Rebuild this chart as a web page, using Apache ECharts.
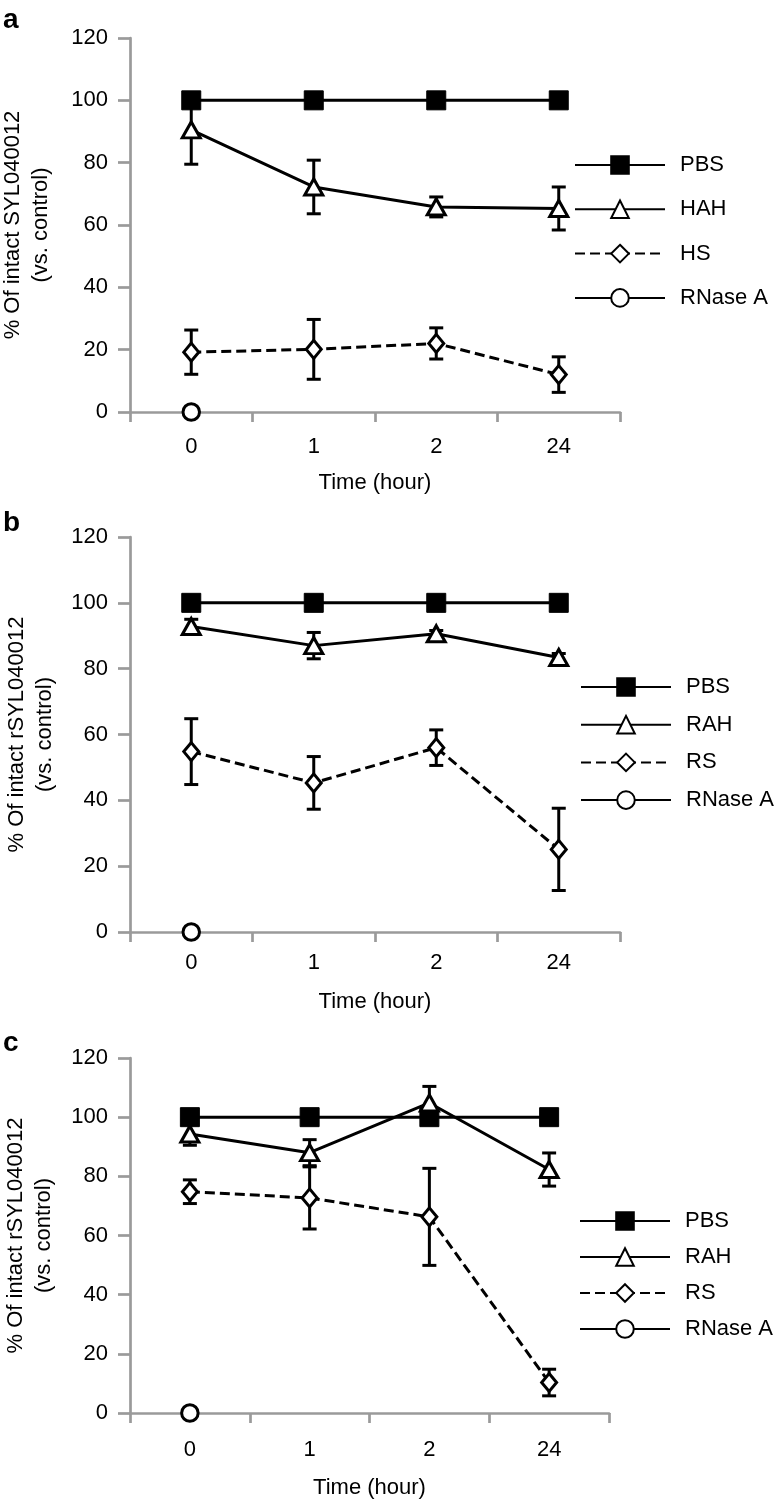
<!DOCTYPE html>
<html lang="en">
<head>
    <meta charset="UTF-8">
    <title>Intact SYL040012 over time</title>
    <script src="https://cdn.jsdelivr.net/npm/echarts@6/dist/echarts.min.js"></script>
    <style>
        html, body { margin: 0; padding: 0; background: #fff; }
        #main { width: 776px; height: 1500px; }
    </style>
</head>
<body>
<div id="main"></div>
<script type="text/javascript">
    // x categories (hours) and y ticks
    var categories = ['0', '1', '2', '24'];
    var yMin = 0, yMax = 120, yStep = 20;

    // panel a
    var pbsA = [100, 100, 100, 100];
    var hahA = [90.5, 72.2, 65.8, 65.3];
    var hahErrA = [11.0, 8.6, 3.2, 6.9];
    var hsA = [19.2, 20.1, 22.0, 12.0];
    var hsErrA = [7.1, 9.6, 5.0, 5.7];
    var rnaseA = [0, null, null, null];

    // panel b
    var pbsB = [100, 100, 100, 100];
    var rahB = [92.8, 87.0, 90.6, 83.4];
    var rahErrB = [2.2, 4.0, 1.0, 1.2];
    var rsB = [54.8, 45.3, 56.0, 25.1];
    var rsErrB = [10.0, 8.0, 5.4, 12.5];
    var rnaseB = [0, null, null, null];

    // panel c
    var pbsC = [100, 100, 100, 100];
    var rahC = [94.3, 88.0, 104.8, 82.3];
    var rahErrC = [3.8, 4.4, 5.6, 5.6];
    var rsC = [74.8, 72.7, 66.3, 10.3];
    var rsErrC = [4.0, 10.5, 16.4, 4.5];
    var rnaseC = [0, null, null, null];

    var font = "'Liberation Sans', Arial, Helvetica, sans-serif";
    var axisGray = '#9a9a9a';
    var lw = 3;

    var myChart = echarts.init(document.getElementById('main'));

    // 误差线
    function errorRender(params, api) {
        var x = api.value(0);
        var hi = api.coord([x, api.value(1) + api.value(2)]);
        var lo = api.coord([x, api.value(1) - api.value(2)]);
        var hw = 7;
        var style = { stroke: '#000', lineWidth: lw, fill: null };
        return {
            type: 'group',
            children: [
                { type: 'line', shape: { x1: hi[0], y1: hi[1], x2: lo[0], y2: lo[1] }, style: style },
                { type: 'line', shape: { x1: hi[0] - hw, y1: hi[1], x2: hi[0] + hw, y2: hi[1] }, style: style },
                { type: 'line', shape: { x1: lo[0] - hw, y1: lo[1], x2: lo[0] + hw, y2: lo[1] }, style: style }
            ]
        };
    }

    function errData(vals, errs) {
        var res = [];
        for (var i = 0; i < vals.length; i++) {
            res.push([i, vals[i], errs[i]]);
        }
        return res;
    }

    var panels = [
        { letter: 'a', top: 38, height: 374, width: 490, yName: '% Of intact SYL040012\n(vs. control)', yGap: 75,
          labelMargin: 24, xGap: 60, letterTop: 6,
          names: ['PBS', 'HAH', 'HS', 'RNase A'], pbs: pbsA, tri: hahA, triErr: hahErrA, dia: hsA, diaErr: hsErrA, circ: rnaseA,
          legendLeft: 574, legendTop: 154, legendGap: 22.3 },
        { letter: 'b', top: 537, height: 395, width: 490, yName: '% Of intact rSYL040012\n(vs. control)', yGap: 71,
          labelMargin: 20, xGap: 59, letterTop: 509,
          names: ['PBS', 'RAH', 'RS', 'RNase A'], pbs: pbsB, tri: rahB, triErr: rahErrB, dia: rsB, diaErr: rsErrB, circ: rnaseB,
          legendLeft: 580, legendTop: 676, legendGap: 15.7 },
        { letter: 'c', top: 1058, height: 355, width: 479, yName: '% Of intact rSYL040012\n(vs. control)', yGap: 72,
          labelMargin: 26, xGap: 64, letterTop: 1029,
          names: ['PBS', 'RAH', 'RS', 'RNase A'], pbs: pbsC, tri: rahC, triErr: rahErrC, dia: rsC, diaErr: rsErrC, circ: rnaseC,
          legendLeft: 579, legendTop: 1210, legendGap: 14 }
    ];

    var grids = [], xAxes = [], yAxes = [], series = [], legends = [], titles = [];

    panels.forEach(function (p, k) {
        grids.push({ left: 130, top: p.top, width: p.width, height: p.height, outerBoundsMode: 'none', containLabel: false });
        titles.push({
            text: p.letter, left: 3, top: p.letterTop, padding: 0,
            textStyle: { fontFamily: font, fontSize: 28, fontWeight: 'bold', color: '#000' }
        });
        xAxes.push({
            type: 'category', gridIndex: k, data: categories, boundaryGap: true,
            name: 'Time (hour)', nameLocation: 'middle', nameGap: p.xGap,
            nameTextStyle: { fontFamily: font, fontSize: 22, color: '#000' },
            axisLine: { lineStyle: { color: axisGray, width: 2.7 } },
            axisTick: { show: true, length: 10, lineStyle: { color: axisGray, width: 2.7 } },
            axisLabel: { margin: p.labelMargin, fontFamily: font, fontSize: 22, color: '#000' },
            splitLine: { show: false }
        });
        yAxes.push({
            type: 'value', gridIndex: k, min: yMin, max: yMax, interval: yStep,
            name: p.yName, nameLocation: 'middle', nameGap: p.yGap,
            nameTextStyle: { fontFamily: font, fontSize: 22, color: '#000', lineHeight: 28, align: 'center' },
            axisLine: { show: true, lineStyle: { color: axisGray, width: 2.7 } },
            axisTick: { show: true, length: 12, lineStyle: { color: axisGray, width: 2.7 } },
            axisLabel: { margin: 22, fontFamily: font, fontSize: 22, color: '#000' },
            splitLine: { show: false }
        });

        // error bars underneath the markers
        series.push({
            type: 'custom', name: 'err-tri-' + k, xAxisIndex: k, yAxisIndex: k, z: 1,
            renderItem: errorRender, encode: { x: 0, y: 1 }, data: errData(p.tri, p.triErr)
        });
        series.push({
            type: 'custom', name: 'err-dia-' + k, xAxisIndex: k, yAxisIndex: k, z: 1,
            renderItem: errorRender, encode: { x: 0, y: 1 }, data: errData(p.dia, p.diaErr)
        });

        series.push({
            name: p.names[0], type: 'line', xAxisIndex: k, yAxisIndex: k, z: 2, data: p.pbs,
            symbol: 'rect', symbolSize: 19,
            lineStyle: { color: '#000', width: lw },
            itemStyle: { color: '#000', borderColor: '#000', borderWidth: 1 }
        });
        series.push({
            name: p.names[1], type: 'line', xAxisIndex: k, yAxisIndex: k, z: 3, data: p.tri,
            symbol: 'triangle', symbolSize: [18, 16],
            lineStyle: { color: '#000', width: lw },
            itemStyle: { color: '#fff', borderColor: '#000', borderWidth: lw }
        });
        series.push({
            name: p.names[2], type: 'line', xAxisIndex: k, yAxisIndex: k, z: 3, data: p.dia,
            symbol: 'diamond', symbolSize: [15, 18],
            lineStyle: { color: '#000', width: lw, type: [10, 5] },
            itemStyle: { color: '#fff', borderColor: '#000', borderWidth: lw }
        });
        series.push({
            name: p.names[3], type: 'line', xAxisIndex: k, yAxisIndex: k, z: 3, data: p.circ,
            symbol: 'circle', symbolSize: 16.5,
            lineStyle: { color: '#000', width: lw },
            itemStyle: { color: '#fff', borderColor: '#000', borderWidth: lw }
        });

        legends.push({
            data: p.names, orient: 'vertical', left: p.legendLeft, top: p.legendTop, padding: 0,
            itemWidth: 90, itemHeight: 22, itemGap: p.legendGap, selectedMode: false,
            textStyle: { fontFamily: font, fontSize: 22, color: '#000', lineHeight: 22, padding: [0, 0, 0, 10] }
        });
    });

    var option = {
        animation: false,
        backgroundColor: '#fff',
        title: titles,
        grid: grids,
        xAxis: xAxes,
        yAxis: yAxes,
        legend: legends,
        series: series
    };

    myChart.setOption(option);
</script>
</body>
</html>
